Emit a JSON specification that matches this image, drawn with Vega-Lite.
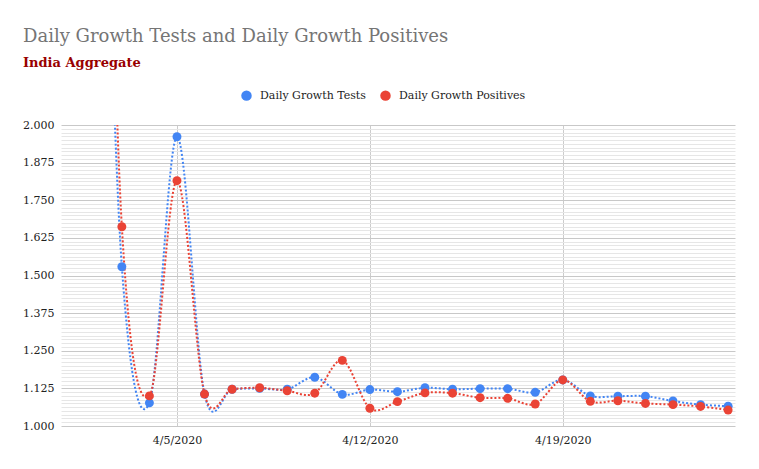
{
  "$schema": "https://vega.github.io/schema/vega-lite/v6.json",
  "width": 674,
  "height": 301,
  "autosize": {"type": "none"},
  "padding": {"left": 61, "top": 125, "right": 24, "bottom": 43},
  "background": "white",
  "config": {"view": {"stroke": null}},
  "title": {
    "text": "Daily Growth Tests and Daily Growth Positives",
    "subtitle": "India Aggregate",
    "anchor": "start",
    "frame": "group",
    "dx": -38,
    "offset": 20,
    "font": "DejaVu Serif",
    "fontSize": 18,
    "fontWeight": "normal",
    "color": "#757575",
    "subtitleFont": "DejaVu Serif",
    "subtitleFontSize": 13,
    "subtitleFontWeight": "bold",
    "subtitleColor": "#990000",
    "subtitlePadding": 11
  },
  "data": {
    "values": [
      {"date": "2020/04/01", "series": "Daily Growth Tests", "value": 2.9},
      {"date": "2020/04/02", "series": "Daily Growth Tests", "value": 3.6},
      {"date": "2020/04/03", "series": "Daily Growth Tests", "value": 1.529},
      {"date": "2020/04/04", "series": "Daily Growth Tests", "value": 1.077},
      {"date": "2020/04/05", "series": "Daily Growth Tests", "value": 1.961},
      {"date": "2020/04/06", "series": "Daily Growth Tests", "value": 1.106},
      {"date": "2020/04/07", "series": "Daily Growth Tests", "value": 1.122},
      {"date": "2020/04/08", "series": "Daily Growth Tests", "value": 1.125},
      {"date": "2020/04/09", "series": "Daily Growth Tests", "value": 1.122},
      {"date": "2020/04/10", "series": "Daily Growth Tests", "value": 1.162},
      {"date": "2020/04/11", "series": "Daily Growth Tests", "value": 1.105},
      {"date": "2020/04/12", "series": "Daily Growth Tests", "value": 1.121},
      {"date": "2020/04/13", "series": "Daily Growth Tests", "value": 1.114},
      {"date": "2020/04/14", "series": "Daily Growth Tests", "value": 1.127},
      {"date": "2020/04/15", "series": "Daily Growth Tests", "value": 1.122},
      {"date": "2020/04/16", "series": "Daily Growth Tests", "value": 1.124},
      {"date": "2020/04/17", "series": "Daily Growth Tests", "value": 1.124},
      {"date": "2020/04/18", "series": "Daily Growth Tests", "value": 1.112},
      {"date": "2020/04/19", "series": "Daily Growth Tests", "value": 1.153},
      {"date": "2020/04/20", "series": "Daily Growth Tests", "value": 1.100},
      {"date": "2020/04/21", "series": "Daily Growth Tests", "value": 1.099},
      {"date": "2020/04/22", "series": "Daily Growth Tests", "value": 1.099},
      {"date": "2020/04/23", "series": "Daily Growth Tests", "value": 1.083},
      {"date": "2020/04/24", "series": "Daily Growth Tests", "value": 1.071},
      {"date": "2020/04/25", "series": "Daily Growth Tests", "value": 1.066},
      {"date": "2020/04/01", "series": "Daily Growth Positives", "value": 3.3},
      {"date": "2020/04/02", "series": "Daily Growth Positives", "value": 4.2},
      {"date": "2020/04/03", "series": "Daily Growth Positives", "value": 1.662},
      {"date": "2020/04/04", "series": "Daily Growth Positives", "value": 1.100},
      {"date": "2020/04/05", "series": "Daily Growth Positives", "value": 1.815},
      {"date": "2020/04/06", "series": "Daily Growth Positives", "value": 1.106},
      {"date": "2020/04/07", "series": "Daily Growth Positives", "value": 1.122},
      {"date": "2020/04/08", "series": "Daily Growth Positives", "value": 1.127},
      {"date": "2020/04/09", "series": "Daily Growth Positives", "value": 1.117},
      {"date": "2020/04/10", "series": "Daily Growth Positives", "value": 1.109},
      {"date": "2020/04/11", "series": "Daily Growth Positives", "value": 1.218},
      {"date": "2020/04/12", "series": "Daily Growth Positives", "value": 1.059},
      {"date": "2020/04/13", "series": "Daily Growth Positives", "value": 1.081},
      {"date": "2020/04/14", "series": "Daily Growth Positives", "value": 1.110},
      {"date": "2020/04/15", "series": "Daily Growth Positives", "value": 1.109},
      {"date": "2020/04/16", "series": "Daily Growth Positives", "value": 1.094},
      {"date": "2020/04/17", "series": "Daily Growth Positives", "value": 1.092},
      {"date": "2020/04/18", "series": "Daily Growth Positives", "value": 1.073},
      {"date": "2020/04/19", "series": "Daily Growth Positives", "value": 1.153},
      {"date": "2020/04/20", "series": "Daily Growth Positives", "value": 1.082},
      {"date": "2020/04/21", "series": "Daily Growth Positives", "value": 1.084},
      {"date": "2020/04/22", "series": "Daily Growth Positives", "value": 1.075},
      {"date": "2020/04/23", "series": "Daily Growth Positives", "value": 1.071},
      {"date": "2020/04/24", "series": "Daily Growth Positives", "value": 1.065},
      {"date": "2020/04/25", "series": "Daily Growth Positives", "value": 1.053}
    ],
    "format": {"parse": {"date": "date"}}
  },
  "encoding": {
    "x": {
      "field": "date",
      "type": "temporal",
      "scale": {
        "domain": [
          {"year": 2020, "month": 3, "date": 31, "hours": 19},
          {"year": 2020, "month": 4, "date": 25, "hours": 6}
        ]
      },
      "axis": {
        "title": null,
        "values": [
          {"year": 2020, "month": 4, "date": 5},
          {"year": 2020, "month": 4, "date": 12},
          {"year": 2020, "month": 4, "date": 19}
        ],
        "format": "%-m/%-d/%Y",
        "grid": true,
        "gridColor": "#cccccc",
        "gridWidth": 1,
        "domain": false,
        "ticks": false,
        "labelPadding": 8,
        "labelFont": "DejaVu Serif",
        "labelFontSize": 11,
        "labelColor": "#222222"
      }
    },
    "y": {
      "field": "value",
      "type": "quantitative",
      "scale": {"domain": [1, 2], "zero": false, "nice": false}
    },
    "color": {
      "field": "series",
      "type": "nominal",
      "scale": {
        "domain": ["Daily Growth Tests", "Daily Growth Positives"],
        "range": ["#4285F4", "#EA4335"]
      },
      "legend": {
        "title": null,
        "orient": "none",
        "direction": "horizontal",
        "legendX": 180,
        "legendY": -35,
        "symbolType": "circle",
        "symbolSize": 110,
        "symbolStrokeWidth": 0,
        "symbolOpacity": 1,
        "labelFont": "DejaVu Serif",
        "labelFontSize": 11,
        "labelColor": "#222222",
        "labelOffset": 8,
        "columnPadding": 14
      }
    }
  },
  "layer": [
    {
      "mark": {
        "type": "line",
        "interpolate": "cardinal",
        "strokeDash": [2, 2],
        "strokeWidth": 2,
        "clip": true
      },
      "encoding": {
        "y": {
          "field": "value",
          "type": "quantitative",
          "axis": {
            "title": null,
            "values": [1, 1.125, 1.25, 1.375, 1.5, 1.625, 1.75, 1.875, 2],
            "format": ".3f",
            "grid": true,
            "gridColor": "#c8c8c8",
            "domain": false,
            "ticks": false,
            "labelPadding": 7,
            "labelFont": "DejaVu Serif",
            "labelFontSize": 11,
            "labelColor": "#222222"
          }
        }
      }
    },
    {
      "mark": {"type": "point", "filled": true, "size": 80, "opacity": 1, "clip": true},
      "encoding": {
        "y": {
          "field": "value",
          "type": "quantitative",
          "axis": {
            "title": null,
            "orient": "right",
            "values": [1.0125,1.025,1.0375,1.05,1.0625,1.075,1.0875,1.1,1.1125,1.1375,1.15,1.1625,1.175,1.1875,1.2,1.2125,1.225,1.2375,1.2625,1.275,1.2875,1.3,1.3125,1.325,1.3375,1.35,1.3625,1.3875,1.4,1.4125,1.425,1.4375,1.45,1.4625,1.475,1.4875,1.5125,1.525,1.5375,1.55,1.5625,1.575,1.5875,1.6,1.6125,1.6375,1.65,1.6625,1.675,1.6875,1.7,1.7125,1.725,1.7375,1.7625,1.775,1.7875,1.8,1.8125,1.825,1.8375,1.85,1.8625,1.8875,1.9,1.9125,1.925,1.9375,1.95,1.9625,1.975,1.9875],
            "grid": true,
            "gridColor": "#e6e6e6",
            "labels": false,
            "ticks": false,
            "domain": false
          }
        }
      }
    }
  ],
  "resolve": {"axis": {"y": "independent"}}
}
